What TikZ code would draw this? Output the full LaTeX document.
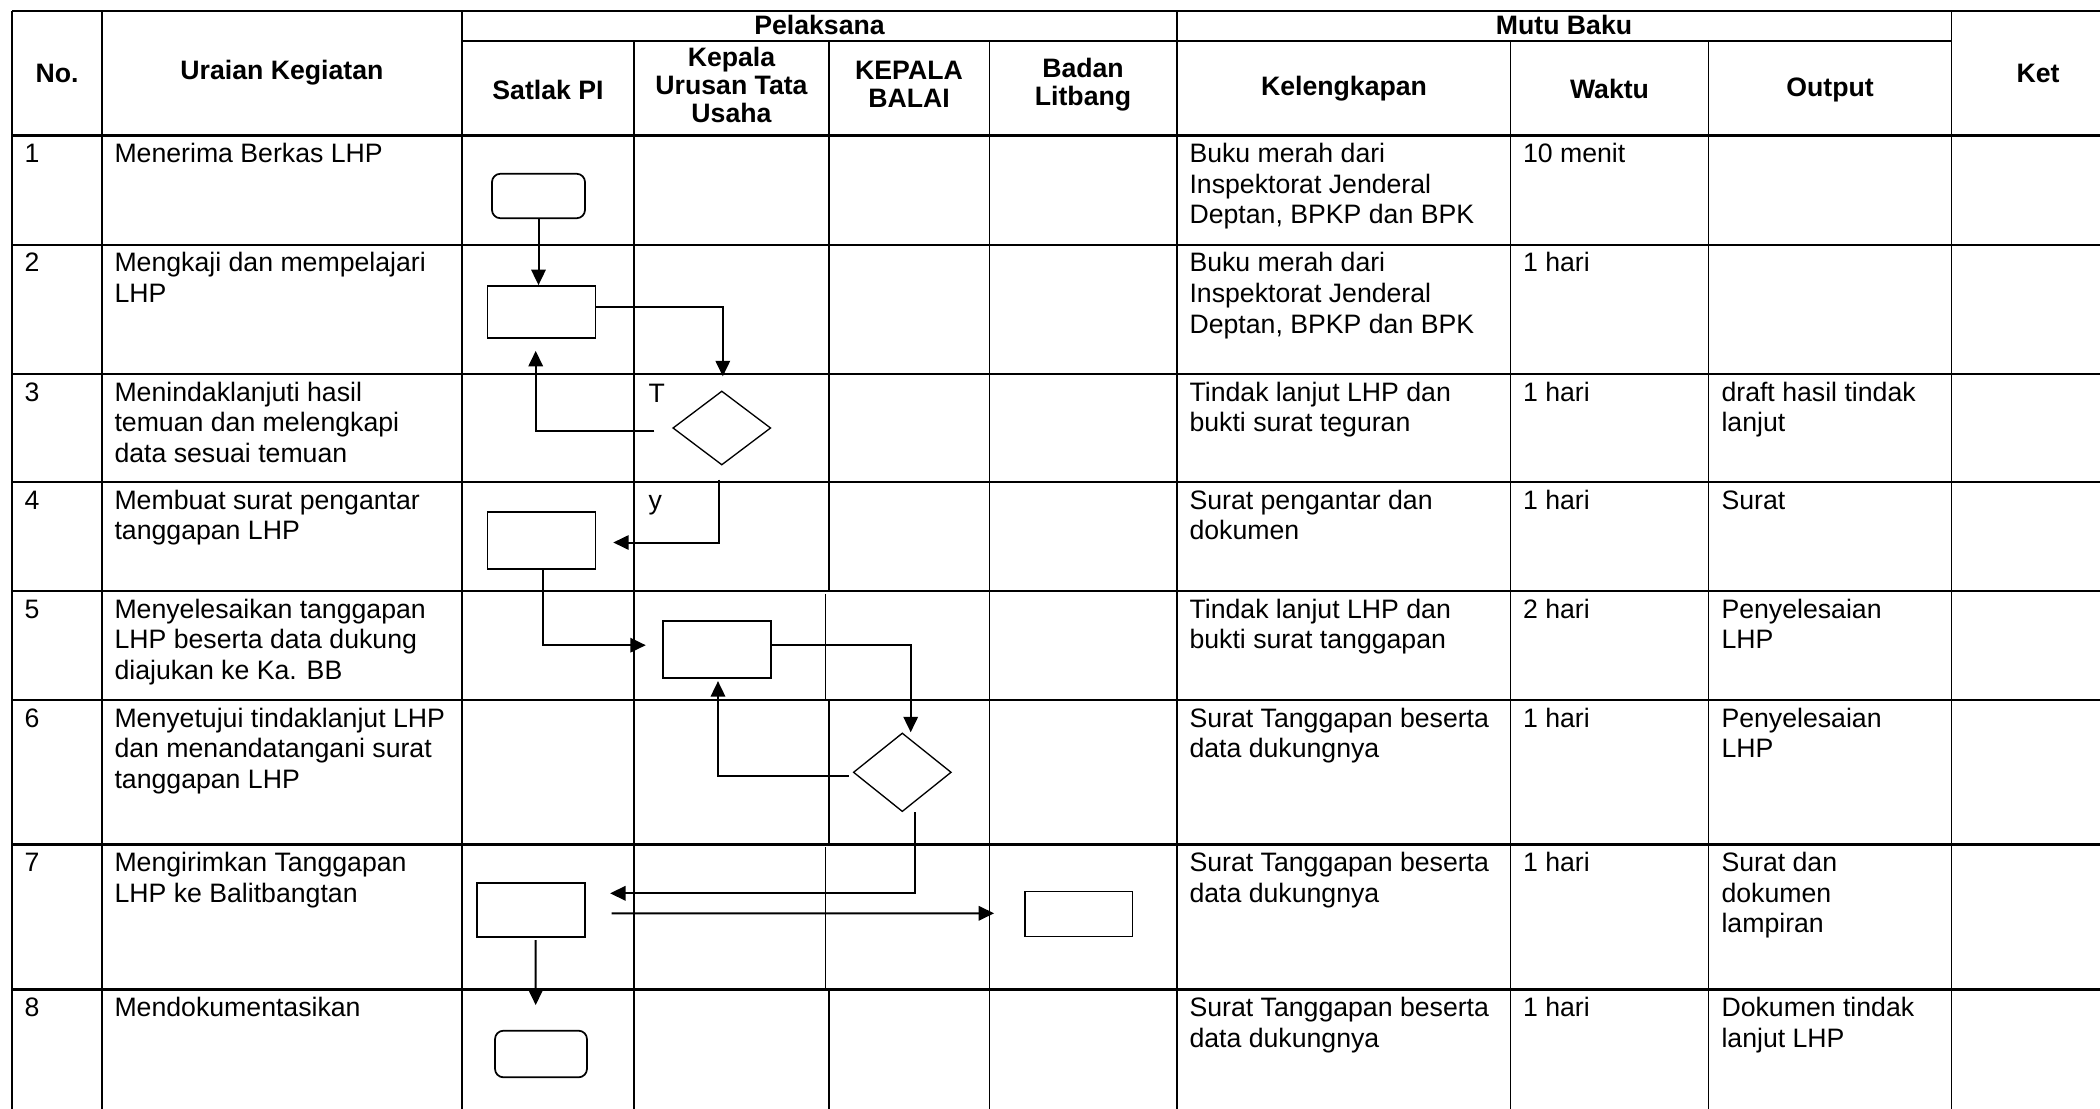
\documentclass[tikz,border=0pt]{standalone}
\usepackage{fontspec}
\setmainfont{Liberation Sans}
\usetikzlibrary{arrows.meta,calc,shapes.geometric}

\newcommand{\tl}[1]{\begin{tabular}[t]{@{}l@{}}#1\end{tabular}}
\newcommand{\tightc}[1]{\vbox{\baselineskip=10.5pt\lineskiplimit=-20pt\lineskip=0pt\halign{\hfil##\hfil\cr#1\crcr}}}

\begin{document}
\begin{tikzpicture}[x=0.375pt,y=-0.375pt,
  every node/.style={font=\fontsize{10pt}{11.5pt}\selectfont},
  hdr/.style={font=\fontsize{10pt}{11.5pt}\selectfont\bfseries, inner sep=0pt, anchor=center},
  cell/.style={inner sep=0pt, anchor=base west},
  grid/.style={line width=0.7pt},
  rowline/.style={line width=0.95pt},
  proc/.style={draw, line width=0.65pt, inner sep=0pt, minimum width=40.5pt},
  term/.style={draw, line width=0.65pt, inner sep=0pt, rounded corners=3.2pt},
  decis/.style={draw, diamond, line width=0.5pt, inner sep=0pt, minimum width=36.75pt},
  arr/.style={line width=0.75pt, -{Triangle[length=5.8pt,width=5.4pt]}}
]
\useasboundingbox (0,0) rectangle (2100,1109);

% ---------------- table grid ----------------
\draw[rowline] (12,11) -- (2100,11);
\draw[grid] (462,41) -- (1951.5,41);
\foreach \y in {135.5,245,374,482,591,700,844.5,989.5}
  \draw[rowline] (12,\y) -- (2100,\y);
\foreach \x in {12,102,462,1177,1951.5}
  \draw[grid] (\x,11) -- (\x,1109);
\foreach \x in {634,989.5,1510.5,1708.5}
  \draw[grid] (\x,41) -- (\x,1109);
\draw[grid] (829,41) -- (829,591);
\draw[grid] (825.5,594) -- (825.5,701);
\draw[grid] (829,700) -- (829,844.5);
\draw[grid] (825.5,847) -- (825.5,989.5);
\draw[grid] (829,989.5) -- (829,1109);

% ---------------- header ----------------
\node[hdr] (hNo)  at (57,73)    {No.};
\node[hdr] (hUr)  at (282,73)   {Uraian Kegiatan};
\node[hdr] (hPel) at (819.5,25) {Pelaksana};
\node[hdr] (hSat) at (548,90)   {Satlak PI};
\node[hdr] (hKep) at (731.5,85) {\tightc{Kepala\cr Urusan Tata\cr Usaha}};
\node[hdr] (hKB)  at (909,84)   {\tightc{KEPALA\cr BALAI}};
\node[hdr] (hBad) at (1083,85)  {\tightc{Badan\cr Litbang}};
\node[hdr] (hMB)  at (1564,25)  {Mutu Baku};
\node[hdr] (hKel) at (1344,89)  {Kelengkapan};
\node[hdr] (hWak) at (1609.5,89) {Waktu};
\node[hdr] (hOut) at (1830,90)  {Output};
\node[hdr] (hKet) at (2038,73)  {Ket};

% ---------------- row texts ----------------
% row 1
\node[cell] (n1) at (24,162.5) {1};
\node[cell] (u1) at (114,162.5) {\tl{Menerima Berkas LHP}};
\node[cell] (k1) at (1189,162.5) {\tl{Buku merah dari\\Inspektorat Jenderal\\Deptan, BPKP dan BPK}};
\node[cell] (w1) at (1522.5,162.5) {10 menit};
% row 2
\node[cell] (n2) at (24,272) {2};
\node[cell] (u2) at (114,272) {\tl{Mengkaji dan mempelajari\\LHP}};
\node[cell] (k2) at (1189,272) {\tl{Buku merah dari\\Inspektorat Jenderal\\Deptan, BPKP dan BPK}};
\node[cell] (w2) at (1522.5,272) {1 hari};
% row 3
\node[cell] (n3) at (24,401) {3};
\node[cell] (u3) at (114,401) {\tl{Menindaklanjuti hasil\\temuan dan melengkapi\\data sesuai temuan}};
\node[cell] (lblT) at (648,402) {T};
\node[cell] (k3) at (1189,401) {\tl{Tindak lanjut LHP dan\\bukti surat teguran}};
\node[cell] (w3) at (1522.5,401) {1 hari};
\node[cell] (o3) at (1721,401) {\tl{draft hasil tindak\\lanjut}};
% row 4
\node[cell] (n4) at (24,509) {4};
\node[cell] (u4) at (114,509) {\tl{Membuat surat pengantar\\tanggapan LHP}};
\node[cell] (lbly) at (648,509) {y};
\node[cell] (k4) at (1189,509) {\tl{Surat pengantar dan\\dokumen}};
\node[cell] (w4) at (1522.5,509) {1 hari};
\node[cell] (o4) at (1721,509) {Surat};
% row 5
\node[cell] (n5) at (24,618) {5};
\node[cell] (u5) at (114,618) {\tl{Menyelesaikan tanggapan\\LHP beserta data dukung\\diajukan ke Ka. BB}};
\node[cell] (k5) at (1189,618) {\tl{Tindak lanjut LHP dan\\bukti surat tanggapan}};
\node[cell] (w5) at (1522.5,618) {2 hari};
\node[cell] (o5) at (1721,618) {\tl{Penyelesaian\\LHP}};
% row 6
\node[cell] (n6) at (24,727) {6};
\node[cell] (u6) at (114,727) {\tl{Menyetujui tindaklanjut LHP\\dan menandatangani surat\\tanggapan LHP}};
\node[cell] (k6) at (1189,727) {\tl{Surat Tanggapan beserta\\data dukungnya}};
\node[cell] (w6) at (1522.5,727) {1 hari};
\node[cell] (o6) at (1721,727) {\tl{Penyelesaian\\LHP}};
% row 7
\node[cell] (n7) at (24,871.5) {7};
\node[cell] (u7) at (114,871.5) {\tl{Mengirimkan Tanggapan\\LHP ke Balitbangtan}};
\node[cell] (k7) at (1189,871.5) {\tl{Surat Tanggapan beserta\\data dukungnya}};
\node[cell] (w7) at (1522.5,871.5) {1 hari};
\node[cell] (o7) at (1721,871.5) {\tl{Surat dan\\dokumen\\lampiran}};
% row 8
\node[cell] (n8) at (24,1016.5) {8};
\node[cell] (u8) at (114,1016.5) {\tl{Mendokumentasikan}};
\node[cell] (k8) at (1189,1016.5) {\tl{Surat Tanggapan beserta\\data dukungnya}};
\node[cell] (w8) at (1522.5,1016.5) {1 hari};
\node[cell] (o8) at (1721,1016.5) {\tl{Dokumen tindak\\lanjut LHP}};

% ---------------- flowchart shapes ----------------
\node[term, minimum width=34.9pt, minimum height=16.7pt] (t1) at (538.5,196) {};
\node[proc, minimum height=19.5pt] (b2) at (541.4,312) {};
\node[decis, minimum height=27.75pt] (d1) at (721.8,428) {};
\node[proc, minimum height=21.6pt] (b4) at (541.4,540.5) {};
\node[proc, minimum width=40.75pt, minimum height=21.4pt] (b5) at (717,649.2) {};
\node[decis, minimum height=29.5pt] (d2) at (902.3,772.3) {};
\node[proc, minimum width=40.65pt, minimum height=20.25pt] (b7) at (531,909.7) {};
\node[proc, minimum width=40.35pt, minimum height=16.9pt] (bB) at (1078.8,914) {};
\node[term, minimum width=34.5pt, minimum height=17.5pt] (t8) at (541,1054) {};

% ---------------- connectors ----------------
\draw[arr] (t1.south) -- (t1.south |- b2.north);
\coordinate (d1in) at ($(d1.north)+(1,-14)$);
\draw[arr] ($(b2.east)+(0,-5)$) -| (d1in);
\coordinate (b2back) at ($(b2.south)+(-5.7,12)$);
\draw[arr] ($(d1.west)+(-17.7,2.7)$) -| (b2back);
\coordinate (b4in) at ($(b4.east)+(17,2)$);
\draw[arr] ($(d1.south)+(-2.4,14)$) |- (b4in);
\coordinate (b5in) at ($(b5.west)+(-16,-4)$);
\draw[arr] ($(b4.south)+(2,0)$) |- (b5in);
\coordinate (d2in) at ($(d2.north)+(8.4,0)$);
\draw[arr] ($(b5.east)+(0,-4)$) -| (d2in);
\coordinate (b5back) at ($(b5.south)+(1,2.5)$);
\draw[arr] ($(d2.west)+(-4,3.5)$) -| (b5back);
\coordinate (b7in) at ($(b7.east)+(24,-16.4)$);
\draw[arr] ($(d2.south)+(12.2,0)$) |- (b7in);
\coordinate (bBin) at ($(bB.west)+(-30,-0.7)$);
\draw[arr] ($(b7.east)+(25.5,3.6)$) -- (bBin);
\coordinate (t8in) at ($(t8.north)+(-5.3,-24.7)$);
\draw[arr] ($(b7.south)+(4.7,2.5)$) -- (t8in);
\end{tikzpicture}
\end{document}
